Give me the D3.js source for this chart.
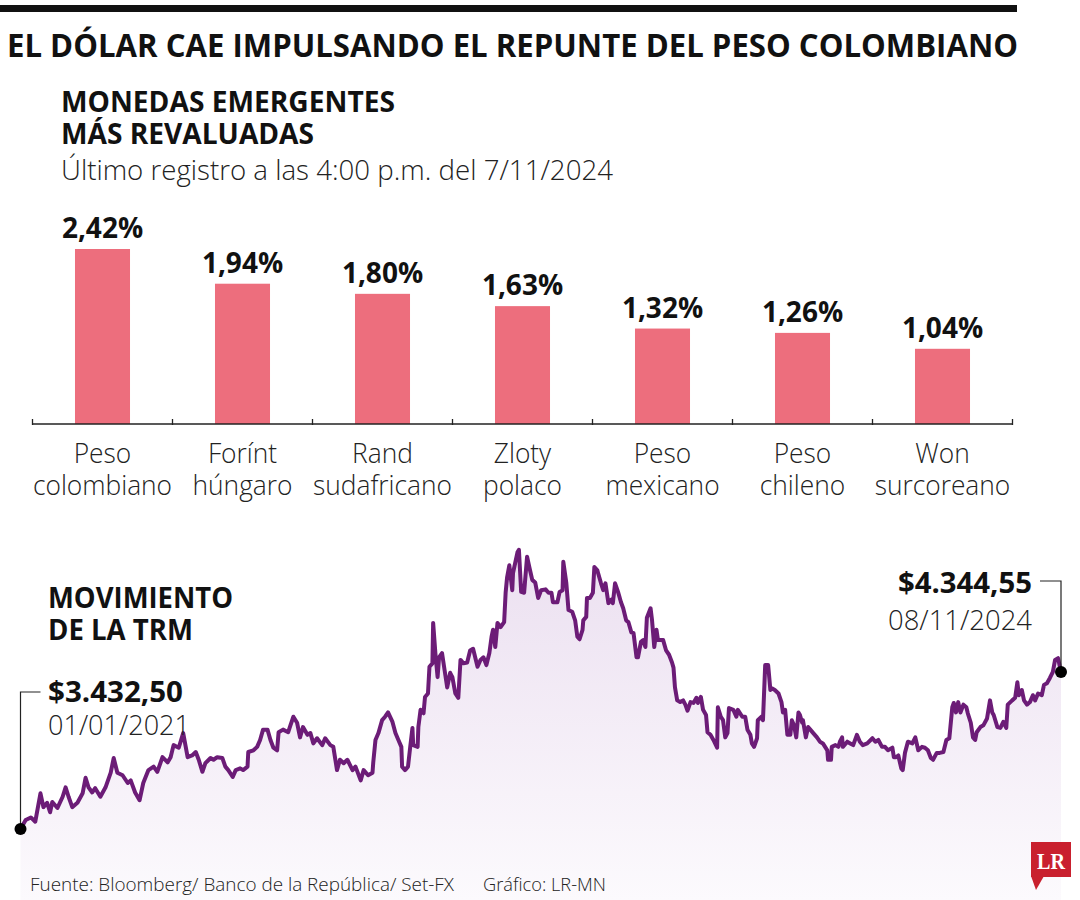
<!DOCTYPE html>
<html><head><meta charset="utf-8">
<script src="https://cdn.jsdelivr.net/npm/d3@7"></script>
<style>body{margin:0;background:#fff} svg{display:block}</style>
</head><body><svg id="c" width="1080" height="900"></svg>
<script>
// ---------- DATA ----------
const categoriesLine1 = ["Peso", "Forínt", "Rand", "Zloty", "Peso", "Peso", "Won"];
const categoriesLine2 = ["colombiano", "húngaro", "sudafricano", "polaco", "mexicano", "chileno", "surcoreano"];
const revaluation = [2.42, 1.94, 1.80, 1.63, 1.32, 1.26, 1.04];
const revaluationLabels = ["2,42%", "1,94%", "1,80%", "1,63%", "1,32%", "1,26%", "1,04%"];

const dates2021 = ["2021-01-01","2021-01-08","2021-01-15","2021-01-21","2021-01-28","2021-02-01","2021-02-06","2021-02-10","2021-02-13","2021-02-20",
"2021-02-27","2021-03-03","2021-03-07","2021-03-12","2021-03-19","2021-03-26","2021-03-30","2021-04-03","2021-04-08","2021-04-12",
"2021-04-19","2021-04-26","2021-05-03","2021-05-07","2021-05-12","2021-05-19","2021-05-26","2021-05-30","2021-06-05","2021-06-11",
"2021-06-16","2021-06-23","2021-06-30","2021-07-05","2021-07-12","2021-07-19","2021-07-23","2021-07-27","2021-08-03","2021-08-09",
"2021-08-15","2021-08-21","2021-08-26","2021-08-30","2021-09-04","2021-09-08","2021-09-15","2021-09-19","2021-09-24","2021-10-01",
"2021-10-05","2021-10-09","2021-10-15","2021-10-19","2021-10-25","2021-10-29","2021-11-04","2021-11-05","2021-11-12","2021-11-17",
"2021-11-21","2021-11-25","2021-12-01","2021-12-05","2021-12-09","2021-12-14","2021-12-16","2021-12-22","2021-12-29"];
const values2021 = [3432.5,3485,3500,3475,3640,3560,3585,3530,3590,3555,
3620,3675,3620,3560,3585,3640,3730,3675,3645,3670,
3620,3675,3760,3845,3760,3745,3700,3715,3645,3600,
3700,3775,3795,3765,3850,3820,3850,3920,3905,3990,
3850,3860,3880,3835,3765,3815,3845,3835,3850,3845,
3795,3775,3735,3775,3785,3775,3795,3880,3890,3910,
3950,4010,4010,3950,3905,3890,3995,4010,3995];

const dates2022 = ["2022-01-01","2022-01-05","2022-01-10","2022-01-14","2022-01-18","2022-01-24","2022-01-28","2022-02-01","2022-02-06","2022-02-13",
"2022-02-17","2022-02-24","2022-02-28","2022-03-05","2022-03-09","2022-03-14","2022-03-19","2022-03-26","2022-03-30","2022-04-06",
"2022-04-10","2022-04-16","2022-04-22","2022-04-23","2022-04-26","2022-04-30","2022-05-05","2022-05-09","2022-05-13","2022-05-19",
"2022-05-23","2022-05-27","2022-05-31","2022-06-01","2022-06-05","2022-06-09","2022-06-12","2022-06-15","2022-06-16","2022-06-22",
"2022-06-23","2022-06-26","2022-06-30","2022-07-02","2022-07-06","2022-07-08","2022-07-12","2022-07-13","2022-07-16","2022-07-19",
"2022-07-21","2022-07-25","2022-07-29","2022-08-01","2022-08-05","2022-08-08","2022-08-12","2022-08-16","2022-08-19","2022-08-23",
"2022-08-28","2022-09-01","2022-09-05","2022-09-11","2022-09-15","2022-09-19","2022-09-23","2022-09-27","2022-09-30","2022-10-02",
"2022-10-05","2022-10-08","2022-10-12","2022-10-17","2022-10-19","2022-10-21","2022-10-24","2022-10-28","2022-10-29","2022-11-04",
"2022-11-06","2022-11-09","2022-11-13","2022-11-17","2022-11-20","2022-11-24","2022-11-28","2022-12-02","2022-12-06","2022-12-12",
"2022-12-16","2022-12-20","2022-12-22","2022-12-28","2022-12-31"];
const values2022 = [4035,4085,4050,3965,4025,3980,3990,3930,3960,3920,
3960,3920,3910,3775,3835,3815,3835,3775,3795,3715,
3775,3745,3760,3820,3950,3990,4065,4085,4110,4055,
3990,3950,3910,3795,3775,3795,3910,4020,3920,3910,
4025,4125,4105,4200,4220,4375,4395,4630,4455,4315,
4430,4455,4340,4255,4340,4315,4220,4195,4415,4395,
4400,4470,4480,4375,4415,4430,4385,4455,4550,4590,
4490,4630,4605,4635,4805,4895,4965,4820,4920,5040,
5055,4810,4805,5015,4955,4880,4865,4775,4820,4825,
4805,4805,4750,4750,4810];

const dates2023 = ["2023-01-04","2023-01-05","2023-01-09","2023-01-12","2023-01-17","2023-01-21","2023-01-24","2023-01-27","2023-01-31","2023-02-01",
"2023-02-05","2023-02-06","2023-02-10","2023-02-14","2023-02-16","2023-02-20","2023-02-21","2023-02-25","2023-02-28","2023-03-03",
"2023-03-07","2023-03-11","2023-03-13","2023-03-16","2023-03-20","2023-03-24","2023-03-27","2023-03-31","2023-04-03","2023-04-07",
"2023-04-10","2023-04-14","2023-04-16","2023-04-20","2023-04-23","2023-04-26","2023-04-28","2023-05-03","2023-05-05","2023-05-08",
"2023-05-11","2023-05-13","2023-05-17","2023-05-20","2023-05-24","2023-05-28","2023-06-01","2023-06-03","2023-06-05","2023-06-08",
"2023-06-12","2023-06-16","2023-06-19","2023-06-22","2023-06-26","2023-06-30","2023-07-04","2023-07-06","2023-07-10","2023-07-13",
"2023-07-17","2023-07-19","2023-07-23","2023-07-27","2023-08-01","2023-08-02","2023-08-06","2023-08-09","2023-08-12","2023-08-15",
"2023-08-17","2023-08-23","2023-08-27","2023-08-29","2023-09-04","2023-09-08","2023-09-11","2023-09-15","2023-09-17","2023-09-20",
"2023-09-24","2023-09-25","2023-09-30","2023-10-02","2023-10-05","2023-10-09","2023-10-12","2023-10-14","2023-10-18","2023-10-23",
"2023-10-27","2023-10-29","2023-11-01","2023-11-04","2023-11-08","2023-11-10","2023-11-13","2023-11-16","2023-11-19","2023-11-21",
"2023-11-24","2023-11-25","2023-11-29","2023-12-02","2023-12-05","2023-12-09","2023-12-14","2023-12-18","2023-12-22","2023-12-28",
"2023-12-29"];
const values2023 = [4820,4985,4865,4705,4695,4645,4550,4535,4590,4645,
4665,4775,4775,4805,4955,4935,4920,4860,4820,4860,
4745,4765,4745,4860,4810,4750,4715,4645,4635,4575,
4570,4430,4430,4520,4530,4490,4660,4715,4645,4490,
4590,4530,4530,4530,4470,4445,4400,4370,4255,4180,
4170,4180,4155,4120,4170,4165,4195,4165,4200,4125,
4095,3995,3980,3950,3905,4140,4085,4065,3965,3990,
4135,4125,4085,4125,4085,4085,4010,3980,3930,3910,
3960,4065,4085,4065,4385,4385,4240,4250,4240,4220,
4170,4110,4125,3980,3980,4065,4035,3965,4110,4095,
4050,4065,3965,4025,4010,3990,3965,3940,3930,3890,
3835];

const dates2024 = ["2024-01-02","2024-01-03","2024-01-08","2024-01-12","2024-01-14","2024-01-17","2024-01-18","2024-01-24","2024-01-28","2024-02-01",
"2024-02-06","2024-02-10","2024-02-14","2024-02-20","2024-02-27","2024-03-02","2024-03-06","2024-03-11","2024-03-15","2024-03-19",
"2024-03-25","2024-03-27","2024-03-30","2024-04-02","2024-04-06","2024-04-08","2024-04-11","2024-04-15","2024-04-21","2024-04-25",
"2024-04-29","2024-05-04","2024-05-08","2024-05-12","2024-05-16","2024-05-19","2024-05-24","2024-05-28","2024-06-02","2024-06-06",
"2024-06-10","2024-06-14","2024-06-16","2024-06-19","2024-06-22","2024-06-25","2024-06-29","2024-07-03","2024-07-05","2024-07-09",
"2024-07-12","2024-07-15","2024-07-17","2024-07-22","2024-07-26","2024-07-31","2024-08-04","2024-08-07","2024-08-09","2024-08-14",
"2024-08-18","2024-08-22","2024-08-26","2024-08-28","2024-09-03","2024-09-07","2024-09-10","2024-09-12","2024-09-16","2024-09-19",
"2024-09-23","2024-09-27","2024-10-01","2024-10-04","2024-10-08","2024-10-13","2024-10-16","2024-10-20","2024-10-24","2024-10-28",
"2024-10-31","2024-11-04","2024-11-08"];
const values2024 = [3835,3910,3920,3910,3940,3965,3910,3940,3930,3920,
3980,3940,3920,3930,3960,3940,3950,3910,3910,3890,
3905,3850,3850,3860,3785,3775,3875,3940,3930,3965,
3890,3910,3905,3890,3845,3835,3875,3875,3880,3950,
3960,4140,4165,4110,4170,4110,4155,4140,4105,4050,
3965,3950,3995,4025,4035,4075,4180,4110,4095,4025,
4020,4055,4020,4155,4180,4195,4285,4210,4240,4180,
4155,4170,4210,4180,4220,4210,4270,4280,4310,4345,
4415,4425,4344.55];

const startLabel = {value: "$3.432,50", date: "01/01/2021"};
const endLabel = {value: "$4.344,55", date: "08/11/2024"};

// ---------- SETUP ----------
const svg = d3.select("#c");
const FONT = "'Open Sans', 'Noto Sans', sans-serif";
const parse = d3.timeParse("%Y-%m-%d");

function fitText(sel, width) {
  sel.attr("textLength", width).attr("lengthAdjust", "spacingAndGlyphs");
}
function condense(sel, factor) {
  sel.each(function () {
    const w = this.getComputedTextLength();
    d3.select(this).attr("textLength", w * factor).attr("lengthAdjust", "spacingAndGlyphs");
  });
}

// ---------- TRM AREA/LINE (background) ----------
const trm = [];
[[dates2021, values2021], [dates2022, values2022], [dates2023, values2023], [dates2024, values2024]]
  .forEach(([ds, vs]) => ds.forEach((d, i) => trm.push({date: parse(d), value: vs[i]})));

const x = d3.scaleTime()
  .domain([parse("2021-01-01"), parse("2024-11-08")])
  .range([20.5, 1061]);
const y = d3.scaleLinear().domain([3000, 5100]).range([903.5, 542]);

const defs = svg.append("defs");
const grad = defs.append("linearGradient").attr("id", "g").attr("gradientUnits", "userSpaceOnUse")
  .attr("x1", 0).attr("x2", 0).attr("y1", 540).attr("y2", 900);
grad.append("stop").attr("offset", 0).attr("stop-color", "#ebdff0");
grad.append("stop").attr("offset", 1).attr("stop-color", "#fcfafd");

svg.append("path").datum(trm)
  .attr("d", d3.area().x(d => x(d.date)).y0(900).y1(d => y(d.value)))
  .attr("fill", "url(#g)");
svg.append("path").datum(trm)
  .attr("d", d3.line().x(d => x(d.date)).y(d => y(d.value)))
  .attr("fill", "none").attr("stroke", "#6c1c77").attr("stroke-width", 4)
  .attr("stroke-linejoin", "round").attr("stroke-linecap", "round");

// ---------- HEADER ----------
svg.append("rect").attr("x", 0).attr("y", 5).attr("width", 1017).attr("height", 7).attr("fill", "#111");
svg.append("text").attr("x", 7).attr("y", 57).attr("font-family", FONT).attr("font-weight", 700)
  .attr("font-size", 33).attr("fill", "#111").text("EL DÓLAR CAE IMPULSANDO EL REPUNTE DEL PESO COLOMBIANO")
  .call(fitText, 1011);
svg.append("text").attr("x", 61).attr("y", 112).attr("font-family", FONT).attr("font-weight", 700)
  .attr("font-size", 29).attr("fill", "#111").text("MONEDAS EMERGENTES").call(fitText, 334);
svg.append("text").attr("x", 61).attr("y", 144).attr("font-family", FONT).attr("font-weight", 700)
  .attr("font-size", 29).attr("fill", "#111").text("MÁS REVALUADAS").call(fitText, 253);
svg.append("text").attr("x", 61).attr("y", 180).attr("font-family", FONT).attr("font-weight", 300)
  .attr("font-size", 28).attr("fill", "#222").text("Último registro a las 4:00 p.m. del 7/11/2024").call(fitText, 552);

// ---------- BAR CHART ----------
const xb = d3.scaleBand().domain(categoriesLine2).range([32.5, 1012.5]).padding(0);
const yb = d3.scaleLinear().domain([0, 2.42]).range([424, 249]);
const barW = xb.bandwidth() * 0.393;

svg.append("g").selectAll("rect").data(revaluation).join("rect")
  .attr("x", (d, i) => xb(categoriesLine2[i]) + (xb.bandwidth() - barW) / 2)
  .attr("y", d => yb(d))
  .attr("width", barW)
  .attr("height", d => yb(0) - yb(d))
  .attr("fill", "#ed6e7d");

svg.append("g").selectAll("text").data(revaluation).join("text")
  .attr("x", (d, i) => xb(categoriesLine2[i]) + xb.bandwidth() / 2)
  .attr("y", d => yb(d) - 11)
  .attr("text-anchor", "middle").attr("font-family", FONT).attr("font-weight", 700)
  .attr("font-size", 28).attr("fill", "#111")
  .text((d, i) => revaluationLabels[i]);

// axis
const ax = svg.append("g");
ax.append("line").attr("x1", xb.range()[0]).attr("x2", xb.range()[1]).attr("y1", yb(0)).attr("y2", yb(0))
  .attr("stroke", "#222").attr("stroke-width", 1.3);
const tickXs = categoriesLine2.map(c => xb(c)).concat([xb.range()[1]]);
ax.selectAll(".t").data(tickXs).join("line")
  .attr("x1", d => d).attr("x2", d => d).attr("y1", yb(0) - 5).attr("y2", yb(0) + 1)
  .attr("stroke", "#222").attr("stroke-width", 1.3);

const lab = svg.append("g").attr("font-family", FONT).attr("font-weight", 300)
  .attr("font-size", 28).attr("fill", "#222").attr("text-anchor", "middle");
lab.selectAll(".l1").data(categoriesLine1).join("text")
  .attr("x", (d, i) => xb(categoriesLine2[i]) + xb.bandwidth() / 2).attr("y", 463).text(d => d)
  .call(condense, 0.94);
lab.selectAll(".l2").data(categoriesLine2).join("text")
  .attr("x", d => xb(d) + xb.bandwidth() / 2).attr("y", 495).text(d => d)
  .call(condense, 0.94);

// ---------- TRM LABELS ----------
svg.append("text").attr("x", 48).attr("y", 608).attr("font-family", FONT).attr("font-weight", 700)
  .attr("font-size", 29).attr("fill", "#111").text("MOVIMIENTO").call(fitText, 185);
svg.append("text").attr("x", 48).attr("y", 640).attr("font-family", FONT).attr("font-weight", 700)
  .attr("font-size", 29).attr("fill", "#111").text("DE LA TRM").call(fitText, 145);

const first = trm[0], last = trm[trm.length - 1];
// start annotation
svg.append("path")
  .attr("d", `M${x(first.date) + 20},692 H${x(first.date)} V${y(first.value)}`)
  .attr("fill", "none").attr("stroke", "#222").attr("stroke-width", 1.2);
svg.append("circle").attr("cx", x(first.date)).attr("cy", y(first.value)).attr("r", 6).attr("fill", "#000");
svg.append("text").attr("x", 48).attr("y", 702).attr("font-family", FONT).attr("font-weight", 700)
  .attr("font-size", 29).attr("fill", "#111").text(startLabel.value).call(fitText, 135);
svg.append("text").attr("x", 48).attr("y", 735).attr("font-family", FONT).attr("font-weight", 300)
  .attr("font-size", 28).attr("fill", "#222").text(startLabel.date).call(fitText, 142);

// end annotation
svg.append("path")
  .attr("d", `M${x(last.date) - 21},581 H${x(last.date)} V${y(last.value)}`)
  .attr("fill", "none").attr("stroke", "#222").attr("stroke-width", 1.2);
svg.append("circle").attr("cx", x(last.date)).attr("cy", y(last.value)).attr("r", 6).attr("fill", "#000");
svg.append("text").attr("x", 1032).attr("y", 593).attr("text-anchor", "end").attr("font-family", FONT)
  .attr("font-weight", 700).attr("font-size", 29).attr("fill", "#111").text(endLabel.value).call(fitText, 134);
svg.append("text").attr("x", 1032).attr("y", 630).attr("text-anchor", "end").attr("font-family", FONT)
  .attr("font-weight", 300).attr("font-size", 28).attr("fill", "#222").text(endLabel.date).call(fitText, 144);

// ---------- FOOTER ----------
svg.append("text").attr("x", 30).attr("y", 891).attr("font-family", FONT).attr("font-weight", 300)
  .attr("font-size", 19).attr("fill", "#222").text("Fuente: Bloomberg/ Banco de la República/ Set-FX")
  .call(fitText, 424);
svg.append("text").attr("x", 483).attr("y", 891).attr("font-family", FONT).attr("font-weight", 300)
  .attr("font-size", 19).attr("fill", "#222").text("Gráfico: LR-MN").call(fitText, 123);

// LR logo
const lg = svg.append("g");
lg.append("rect").attr("x", 1031).attr("y", 842).attr("width", 40).attr("height", 35).attr("fill", "#c9202e");
lg.append("path").attr("d", "M1031,876 L1044,876 L1036,890 Z").attr("fill", "#c9202e");
lg.append("text").attr("x", 1051).attr("y", 869).attr("text-anchor", "middle")
  .attr("font-family", "'Liberation Serif', 'DejaVu Serif', serif").attr("font-weight", 700)
  .attr("font-size", 24).attr("fill", "#fff").text("LR").call(fitText, 28);
</script></body></html>
